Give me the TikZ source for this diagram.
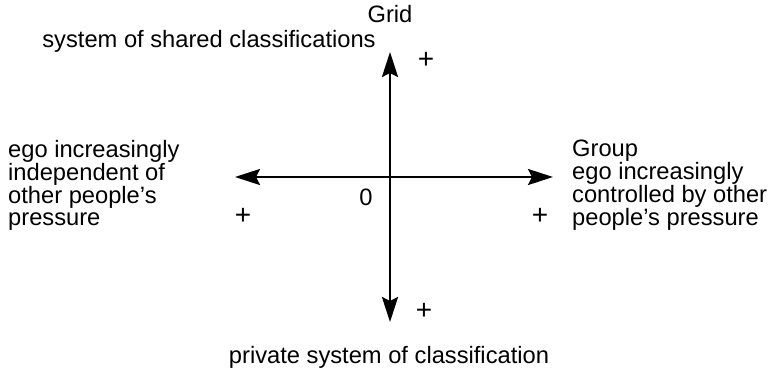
\documentclass[tikz,border=0pt]{standalone}
\usepackage{fontspec}
\setmainfont{Liberation Sans}
\usetikzlibrary{arrows.meta}
\begin{document}
\begin{tikzpicture}[x=1pt,y=-1pt,
  lbl/.style={inner sep=0pt, font=\fontsize{23.7}{22}\selectfont, align=left},
  plus/.style={inner sep=0pt, font=\fontsize{28}{28}\selectfont},
  axis/.style={line width=2.6pt, {Stealth[length=25pt,width=16pt,inset=4pt]}-{Stealth[length=25pt,width=16pt,inset=4pt]}}]
\useasboundingbox (0,0) rectangle (771,372);
\coordinate (top) at (390,52);
\coordinate (bottom) at (390,322);
\coordinate (left) at (235,177);
\coordinate (right) at (553,177);
\draw[axis] (bottom) -- (top);
\draw[axis] (left) -- (right);
\node[lbl, anchor=base] (grid) at (390,23) {Grid};
\node[lbl, anchor=base] (shared) at (209,47) {system of shared classifications};
\node[lbl, anchor=base west] (lefttext) at (8,225.5) {ego increasingly\\independent of\\other people’s\\pressure};
\node[lbl, anchor=base west] (righttext) at (572,225.5) {Group\\ego increasingly\\controlled by other\\people’s pressure};
\node[lbl, anchor=base] (private) at (389,363) {private system of classification};
\node[lbl, anchor=base] (zero) at (366,205) {0};
\node[plus] (ptop) at (426,60) {+};
\node[plus] (pbottom) at (424,311) {+};
\node[plus] (pleft) at (243,216) {+};
\node[plus] (pright) at (540,216) {+};
\end{tikzpicture}
\end{document}
